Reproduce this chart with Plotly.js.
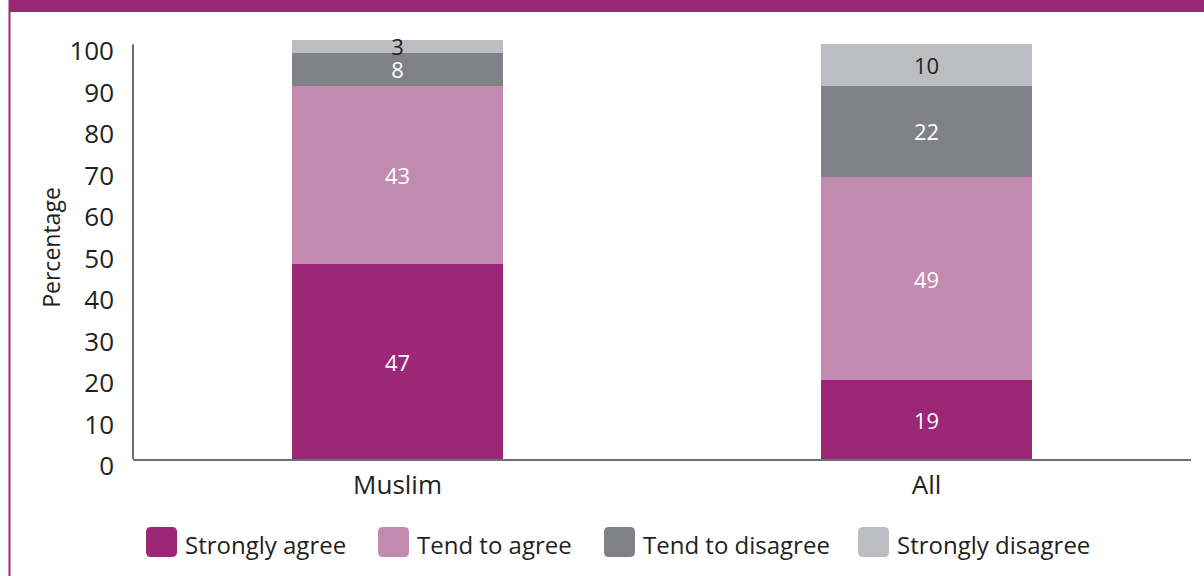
<!DOCTYPE html>
<html><head><meta charset="utf-8">
<script src="https://cdn.plot.ly/plotly-3.0.1.min.js"></script>
<style>html,body{margin:0;padding:0;background:#fff}#chart{width:1204px;height:576px}</style>
</head><body><div id="chart"></div>
<script>
const categories = ["Muslim", "All"];
const seriesNames = ["Strongly agree", "Tend to agree", "Tend to disagree", "Strongly disagree"];
const stronglyAgree = [47, 19];
const tendToAgree = [43, 49];
const tendToDisagree = [8, 22];
const stronglyDisagree = [3, 10];
const yTicks = [0, 10, 20, 30, 40, 50, 60, 70, 80, 90, 100];

const colors = ["#9b2776", "#c28aaf", "#808184", "#bcbdc0"];
const textColors = ["#ffffff", "#ffffff", "#ffffff", "#231f20"];
const FONT = "'Open Sans', sans-serif";
const values = [stronglyAgree, tendToAgree, tendToDisagree, stronglyDisagree];

const traces = values.map((v, i) => ({
  type: "bar", x: categories, y: v, name: seriesNames[i],
  marker: {color: colors[i], line: {width: 0}},
  text: v.map(String), textposition: "inside", insidetextanchor: "middle",
  textangle: 0, constraintext: "none",
  textfont: {family: FONT, size: 22, color: textColors[i]},
  hoverinfo: "skip", showlegend: false
}));

// plot area geometry
const L = 133, R = 13, T = 36, B = 117, W = 1204, H = 576;
const pw = W - L - R, ph = H - T - B;
const px = x => (x - L) / pw;        // pixel -> paper x
const py = y => (H - B - y) / ph;    // pixel -> paper y

const shapes = [
  {type: "rect", xref: "paper", yref: "paper", x0: px(9), x1: px(1204), y0: py(12), y1: py(-2), fillcolor: "#9b2776", line: {width: 0}, layer: "above"},
  {type: "line", xref: "paper", yref: "paper", x0: px(9.5), x1: px(9.5), y0: py(0), y1: py(576), line: {color: "#9b2776", width: 2}},
  {type: "line", xref: "paper", yref: "y", x0: 0, x1: 0, y0: 0, y1: 100, line: {color: "#6d6e71", width: 2}}
];
const annotations = [];
const legendX = [146, 378, 604, 858];
seriesNames.forEach((n, i) => {
  const x0 = legendX[i], x1 = x0 + 31, y0 = 527, y1 = 557, r = 5;
  const X0 = px(x0), X1 = px(x1), Y0 = py(y1), Y1 = py(y0);
  const rx = r / pw, ry = r / ph;
  shapes.push({type: "path", xref: "paper", yref: "paper",
    path: `M ${X0+rx} ${Y0} L ${X1-rx} ${Y0} Q ${X1} ${Y0} ${X1} ${Y0+ry} L ${X1} ${Y1-ry} Q ${X1} ${Y1} ${X1-rx} ${Y1} L ${X0+rx} ${Y1} Q ${X0} ${Y1} ${X0} ${Y1-ry} L ${X0} ${Y0+ry} Q ${X0} ${Y0} ${X0+rx} ${Y0} Z`,
    fillcolor: colors[i], line: {width: 0}});
  annotations.push({xref: "paper", yref: "paper", x: px(x1 + 6), y: py(544), xanchor: "left", yanchor: "middle",
    text: n, showarrow: false, font: {family: FONT, size: 24, color: "#231f20"}});
});

const layout = {
  width: W, height: H,
  margin: {l: L, r: R, t: T, b: B, pad: 0},
  paper_bgcolor: "#ffffff", plot_bgcolor: "#ffffff",
  barmode: "stack", bargap: 0.6,
  font: {family: FONT, color: "#231f20"},
  xaxis: {type: "category", range: [-0.5, 1.5], showline: true, linecolor: "#6d6e71", linewidth: 2,
    showgrid: false, ticks: "", tickfont: {family: FONT, size: 26, color: "#231f20"}, ticklabelstandoff: 2, fixedrange: true},
  yaxis: {range: [0, 102], tickvals: yTicks, ticktext: yTicks.map(String), showline: false, showgrid: false, zeroline: false,
    ticks: "", tickfont: {family: FONT, size: 26, color: "#231f20"}, ticklabelstandoff: 18, ticklabelshift: 7,
    title: {text: "Percentage", font: {family: FONT, size: 23, color: "#231f20"}, standoff: 2}, fixedrange: true},
  shapes: shapes, annotations: annotations
};
Plotly.newPlot("chart", traces, layout, {displayModeBar: false, staticPlot: true});
</script></body></html>
